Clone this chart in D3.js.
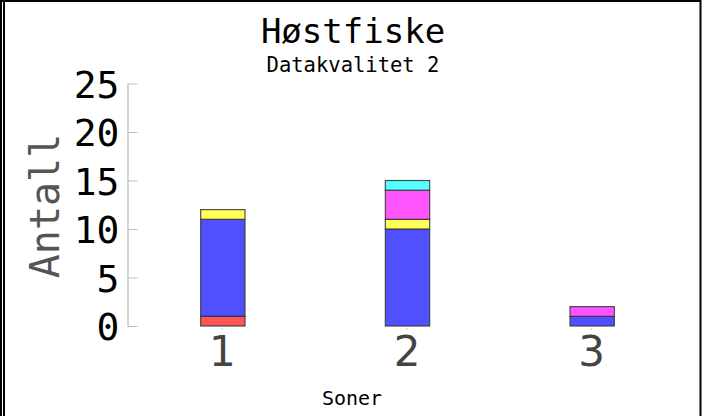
<!DOCTYPE html>
<html><head><meta charset="utf-8">
<script src="https://cdn.jsdelivr.net/npm/d3@7"></script>
<style>body{margin:0;background:#fff}svg{display:block}</style>
</head><body>
<svg id="c" width="719" height="416"></svg>
<script>
const categories = ["1", "2", "3"];
const seriesNames = ["rød", "blå", "gul", "magenta", "cyan"];
const seriesColors = ["#ff5555", "#5050ff", "#ffff55", "#ff55ff", "#55ffff"];
const red = [1, 0, 0];
const blue = [10, 10, 1];
const yellow = [1, 1, 0];
const magenta = [0, 3, 1];
const cyan = [0, 1, 0];
const yTicks = [0, 5, 10, 15, 20, 25];
const title = "Høstfiske";
const subtitle = "Datakvalitet 2";
const xTitle = "Soner";
const yTitle = "Antall";

const seriesValues = [red, blue, yellow, magenta, cyan];
const rows = categories.map((c, i) => {
  const r = {cat: c};
  seriesNames.forEach((s, k) => r[s] = seriesValues[k][i]);
  return r;
});
const stack = d3.stack().keys(seriesNames)(rows);

const svg = d3.select("#c");
const mono = "'DejaVu Sans Mono', monospace";
const sans = "'DejaVu Sans', sans-serif";

// frame
svg.append("line").attr("x1", 0).attr("x2", 701).attr("y1", 1).attr("y2", 1).attr("stroke", "#000").attr("stroke-width", 2);
svg.append("line").attr("x1", 1).attr("x2", 1).attr("y1", 0).attr("y2", 416).attr("stroke", "#000").attr("stroke-width", 2);
svg.append("line").attr("x1", 4).attr("x2", 4).attr("y1", 0).attr("y2", 416).attr("stroke", "#000").attr("stroke-width", 2);
svg.append("line").attr("x1", 700.5).attr("x2", 700.5).attr("y1", 0).attr("y2", 416).attr("stroke", "#000").attr("stroke-width", 2);

const x = d3.scaleBand().domain(categories).range([130, 684]).paddingInner(0.76).paddingOuter(0.38);
const y = d3.scaleLinear().domain([0, 25]).range([326, 83.5]);

// bars
svg.append("g").selectAll("g").data(stack).join("g")
  .attr("fill", (d, i) => seriesColors[i])
  .selectAll("rect").data(d => d.filter(p => p[1] - p[0] > 0)).join("rect")
  .attr("x", d => x(d.data.cat) + 0.5)
  .attr("width", x.bandwidth())
  .attr("y", d => y(d[1]))
  .attr("height", d => y(d[0]) - y(d[1]))
  .attr("stroke", "#333")
  .attr("stroke-opacity", 0.85)
  .attr("stroke-width", 1.2);

// y axis
const ya = svg.append("g").attr("transform", "translate(127.5,0)")
  .call(d3.axisLeft(y).tickValues(yTicks).tickSizeInner(-10).tickSizeOuter(0).tickPadding(8));
ya.select(".domain").attr("stroke", "#aaa");
ya.selectAll(".tick line").attr("stroke", "#bbb");
ya.selectAll(".tick text").attr("font-family", mono).attr("font-size", 38).attr("fill", "#000").attr("dy", "0.36em");

// x axis
const xa = svg.append("g").attr("transform", "translate(0,328)")
  .call(d3.axisBottom(x).tickSizeInner(2).tickSizeOuter(0).tickPadding(6));
xa.select(".domain").remove();
xa.selectAll(".tick line").attr("stroke", "#ccc");
xa.selectAll(".tick text").attr("font-family", sans).attr("font-size", 42).attr("fill", "#444").attr("dy", "0.71em");

// titles
svg.append("text").attr("x", 353).attr("y", 43).attr("text-anchor", "middle")
  .attr("font-family", mono).attr("font-size", 34).attr("fill", "#000").text(title);
svg.append("text").attr("x", 353).attr("y", 72).attr("text-anchor", "middle")
  .attr("font-family", mono).attr("font-size", 20.5).attr("fill", "#000").text(subtitle);
svg.append("text").attr("x", 352).attr("y", 405).attr("text-anchor", "middle")
  .attr("font-family", mono).attr("font-size", 20).attr("fill", "#000").text(xTitle);
svg.append("text").attr("transform", "translate(59,206) rotate(-90)").attr("text-anchor", "middle")
  .attr("font-family", mono).attr("font-size", 40).attr("fill", "#555").text(yTitle);
</script>
</body></html>
